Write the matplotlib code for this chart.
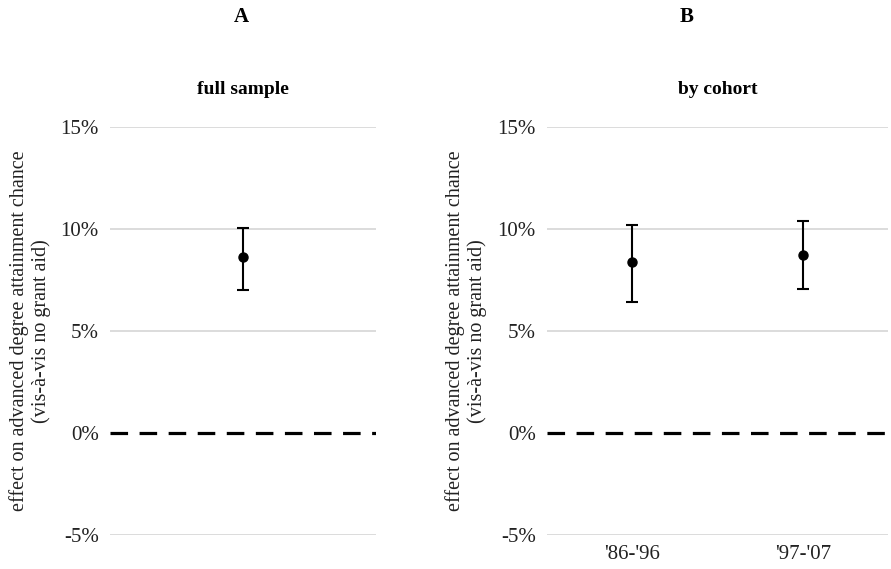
import matplotlib
matplotlib.use("Agg")
import matplotlib.pyplot as plt
from matplotlib.ticker import FuncFormatter

plt.rcParams['font.family'] = ['Liberation Serif', 'DejaVu Serif']

# Data (effects in %)
full_labels = ["full sample"]
full_est = [8.64]
full_low = [7.00]
full_high = [10.06]

cohort_labels = ["'86-'96", "'97-'07"]
cohort_est = [8.37, 8.73]
cohort_low = [6.44, 7.06]
cohort_high = [10.20, 10.39]

yticks = [-5, 0, 5, 10, 15]
ylabel = "effect on advanced degree attainment chance\n(vis-à-vis no grant aid)"

fig = plt.figure(figsize=(8.91, 5.69), dpi=100)
axA = fig.add_axes([110/891, 1-535/569, 266/891, 408/569])
axB = fig.add_axes([547/891, 1-535/569, 341/891, 408/569])


def style(ax, labels, est, low, high, show_xticks, label_x):
    x = list(range(len(labels)))
    yerr = [[e - l for e, l in zip(est, low)], [h - e for e, h in zip(est, high)]]
    for y in yticks:
        if y != 0:
            ax.axhline(y, color='#d9d9d9', lw=1.3, zorder=0)
    ax.axhline(0, color='black', lw=2.3, linestyle=(0, (5.5, 3.6)), zorder=1)
    ax.errorbar(x, est, yerr=yerr, fmt='o', color='black', ms=6.5,
                elinewidth=1.5, capsize=4.5, capthick=1.5, zorder=3)
    ax.set_xlim(-0.5, len(labels) - 0.5)
    ax.set_ylim(-5, 15)
    ax.set_yticks(yticks)
    ax.yaxis.set_major_formatter(FuncFormatter(lambda v, p: f"{int(v)}%"))
    ax.tick_params(axis='y', length=0, labelsize=15, pad=8, labelcolor='#222222')
    if show_xticks:
        ax.set_xticks(x)
        ax.set_xticklabels(labels)
        ax.tick_params(axis='x', length=0, labelsize=15, pad=7, labelcolor='#222222')
    else:
        ax.set_xticks([])
    for s in ax.spines.values():
        s.set_visible(False)
    ax.set_ylabel(ylabel, fontsize=14.5, color='#222222', linespacing=1.15, va='center')
    ax.yaxis.set_label_coords(label_x, 0.5)


style(axA, full_labels, full_est, full_low, full_high, False, -0.30)
style(axB, cohort_labels, cohort_est, cohort_low, cohort_high, True, -0.2375)

axA.set_title("full sample", fontsize=14, fontweight='bold', pad=24)
axB.set_title("by cohort", fontsize=14, fontweight='bold', pad=24)

fig.text(241/891, 1-17/569, "A", ha='center', va='center', fontsize=15, fontweight='bold')
fig.text(687/891, 1-17/569, "B", ha='center', va='center', fontsize=15, fontweight='bold')

fig.savefig("out.png", dpi=100)
